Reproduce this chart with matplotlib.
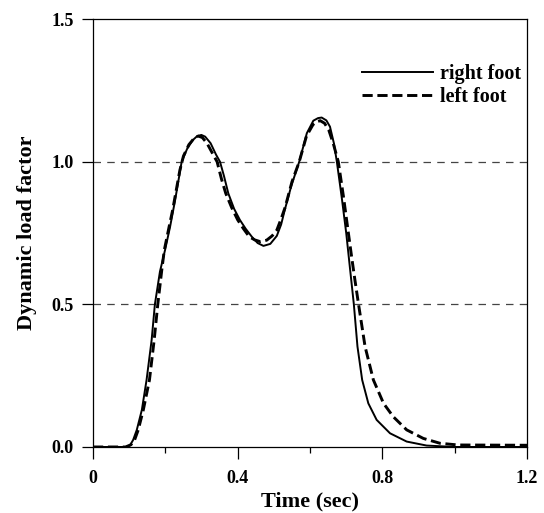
import matplotlib
matplotlib.use('Agg')
import matplotlib.pyplot as plt
from matplotlib.ticker import MultipleLocator

# right foot (solid)
t_right = [0.0, 0.05, 0.09, 0.102, 0.111, 0.121, 0.135, 0.148, 0.162, 0.171, 0.185,
           0.199, 0.213, 0.227, 0.245, 0.26, 0.275, 0.288, 0.2995,
           0.31, 0.325, 0.34, 0.351, 0.362, 0.374, 0.39, 0.406, 0.422, 0.439, 0.455,
           0.471, 0.49, 0.508, 0.52, 0.53, 0.548, 0.57, 0.591, 0.609, 0.622, 0.632,
           0.645, 0.655, 0.666, 0.674, 0.688, 0.7, 0.71, 0.721, 0.731, 0.744, 0.761,
           0.784, 0.821, 0.867, 0.922, 1.0, 1.2]
dlf_right = [0.0, 0.0, 0.0, 0.005, 0.025, 0.06, 0.13, 0.235, 0.375, 0.5, 0.615,
             0.69, 0.772, 0.866, 1.0, 1.045, 1.075, 1.09, 1.094,
             1.088, 1.065, 1.025, 1.0, 0.95, 0.889, 0.835, 0.796, 0.765, 0.737, 0.715,
             0.705, 0.712, 0.74, 0.78, 0.831, 0.915, 1.0, 1.10, 1.144, 1.153, 1.155,
             1.145, 1.123, 1.064, 1.0, 0.87, 0.749, 0.63, 0.5, 0.352, 0.235, 0.153,
             0.095, 0.048, 0.019, 0.005, 0.0, 0.0]

# left foot (dashed)
t_left = [0.0, 0.05, 0.09, 0.105, 0.115, 0.125, 0.139, 0.156, 0.169, 0.179, 0.19,
          0.197, 0.21, 0.22, 0.23, 0.24, 0.25, 0.265, 0.28, 0.291, 0.302,
          0.315, 0.33, 0.343, 0.355, 0.367, 0.383, 0.4, 0.416, 0.432, 0.447, 0.462,
          0.48, 0.495, 0.508, 0.52, 0.531, 0.55, 0.57, 0.59, 0.608, 0.618, 0.628,
          0.64, 0.652, 0.665, 0.678, 0.692, 0.706, 0.715, 0.724, 0.734, 0.752, 0.775,
          0.803, 0.83, 0.867, 0.913, 0.959, 1.009, 1.2]
dlf_left = [0.0, 0.0, 0.0, 0.008, 0.025, 0.06, 0.13, 0.235, 0.375, 0.5, 0.62,
            0.69, 0.77, 0.83, 0.9, 0.97, 1.02, 1.06, 1.083, 1.09, 1.085,
            1.065, 1.03, 1.0, 0.94, 0.889, 0.84, 0.796, 0.765, 0.737, 0.726, 0.72,
            0.725, 0.74, 0.76, 0.8, 0.84, 0.93, 1.0, 1.09, 1.13, 1.14, 1.144,
            1.135, 1.11, 1.06, 1.0, 0.88, 0.749, 0.665, 0.585, 0.5, 0.352, 0.235,
            0.153, 0.106, 0.06, 0.03, 0.013, 0.007, 0.006]

x_ticks = [0, 0.4, 0.8, 1.2]
x_ticklabels = ['0', '0.4', '0.8', '1.2']
y_ticks = [0.0, 0.5, 1.0, 1.5]
y_ticklabels = ['0.0', '0.5', '1.0', '1.5']
ref_levels = [0.5, 1.0]

plt.rcParams['font.family'] = ['Liberation Serif', 'DejaVu Serif']
plt.rcParams['font.weight'] = 'bold'

fig = plt.figure(figsize=(5.44, 5.13), dpi=100)
ax = fig.add_axes([0.171, 0.1287, 0.798, 0.834])

for lvl in ref_levels:
    ax.axhline(lvl, color='#444444', lw=0.9, linestyle=(0, (6, 5)), zorder=1)

ax.plot(t_right, dlf_right, color='black', lw=1.4, label='right foot', zorder=3)
ax.plot(t_left, dlf_left, color='black', lw=2.1, linestyle=(0, (3.5, 1.6)),
        label='left foot', zorder=2)

ax.set_xlim(0, 1.2)
ax.set_ylim(0, 1.5)
ax.set_xticks(x_ticks)
ax.set_xticklabels(x_ticklabels)
ax.xaxis.set_minor_locator(MultipleLocator(0.2))
ax.set_yticks(y_ticks)
ax.set_yticklabels(y_ticklabels)

ax.tick_params(axis='x', which='major', length=8.5, width=0.9, pad=8, labelsize=13)
ax.tick_params(axis='x', which='minor', length=4, width=0.9)
ax.tick_params(axis='y', which='major', length=8, width=0.9, pad=6, labelsize=13)
for sp in ax.spines.values():
    sp.set_linewidth(0.9)

ax.set_xlabel('Time (sec)', fontsize=16, fontweight='bold', labelpad=3)
ax.set_ylabel('Dynamic load factor', fontsize=16, fontweight='bold', labelpad=10)

ax.legend(loc='upper right', bbox_to_anchor=(1.0, 0.91), frameon=False,
          fontsize=14.5, handlelength=3.5, handletextpad=0.35, labelspacing=0.15,
          borderpad=0.1, borderaxespad=0.2)

fig.savefig('out.png', dpi=100)
